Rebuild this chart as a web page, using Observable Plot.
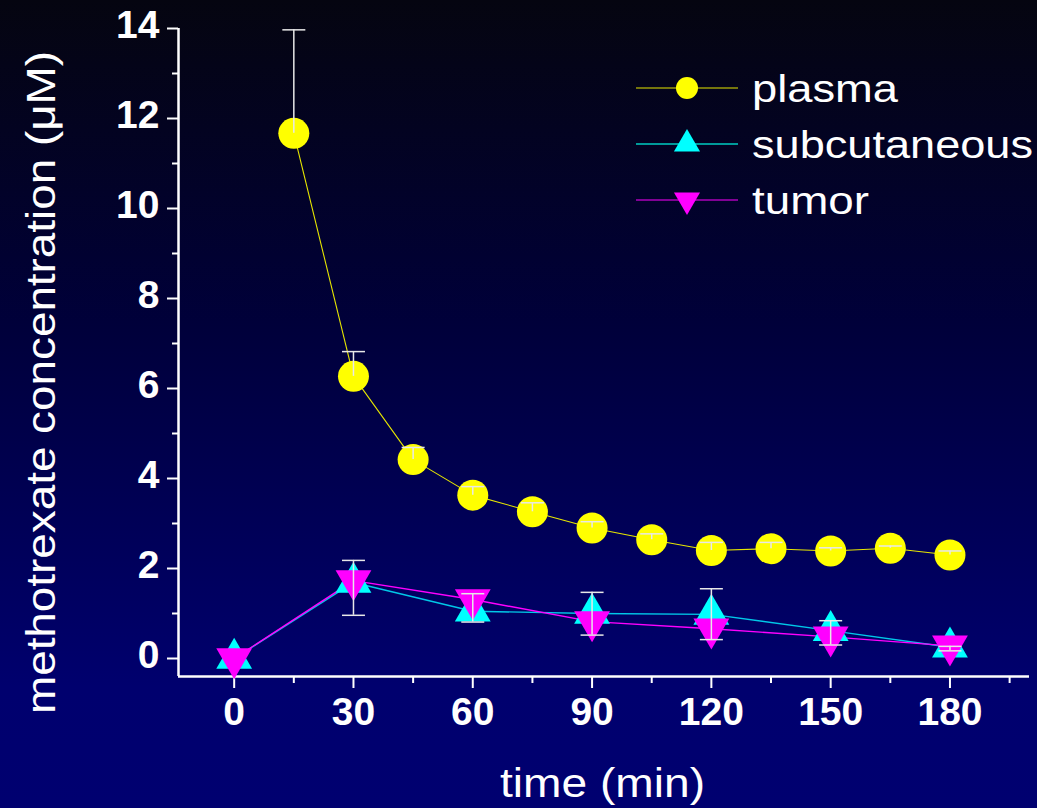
<!DOCTYPE html>
<html>
<head>
<meta charset="utf-8">
<script src="https://cdn.jsdelivr.net/npm/d3@7"></script>
<script src="https://cdn.jsdelivr.net/npm/@observablehq/plot@0.6"></script>
<style>
  html, body { margin: 0; padding: 0; background: #000060; }
  #chart { width: 1037px; height: 808px; overflow: hidden;
    background: linear-gradient(to bottom, #050510 0%, #00003a 40%, #00006e 85%, #000070 100%); }
  svg { display: block; font-family: "Liberation Sans", Arial, sans-serif; }
</style>
</head>
<body>
<div id="chart"></div>
<script>
// ---- data ----
const plasmaTime = [15, 30, 45, 60, 75, 90, 105, 120, 135, 150, 165, 180];
const plasmaConc = [11.67, 6.27, 4.42, 3.63, 3.26, 2.90, 2.64, 2.40, 2.44, 2.39, 2.45, 2.30];
const plasmaErr  = [2.30, 0.55, 0.27, 0.19, 0.20, 0.14, 0.13, 0.18, 0.14, 0.07, 0.05, 0.09];

const tissueTime     = [0, 30, 60, 90, 120, 150, 180];
const subcutConc     = [0.00, 1.69, 1.05, 1.00, 0.98, 0.62, 0.25];
const subcutErrUp    = [0.00, 0.49, 0.39, 0.47, 0.57, 0.22, 0.02];
const subcutErrDown  = [0.00, 0.73, 0.24, 0.48, 0.56, 0.32, 0.08];
const tumorConc      = [0.00, 1.73, 1.31, 0.82, 0.66, 0.48, 0.28];

const xMajorTicks = [0, 30, 60, 90, 120, 150, 180];
const xMinorTicks = [15, 45, 75, 105, 135, 165, 195];
const yMajorTicks = [0, 2, 4, 6, 8, 10, 12, 14];
const yMinorTicks = [1, 3, 5, 7, 9, 11, 13];

const seriesNames  = ["plasma", "subcutaneous", "tumor"];
const seriesColors = ["#ffff00", "#00ffff", "#ff00ff"];
const lineColors   = ["#e6e600", "#00c8e8", "#ff00ff"];
const xTitle = "time (min)";
const yTitle = "methotrexate concentration (\u03bcM)";

// ---- tables ----
const plasma = plasmaTime.map((t, i) => ({t, c: plasmaConc[i], e: plasmaErr[i]}));
const subcut = tissueTime.map((t, i) => ({t, c: subcutConc[i], up: subcutErrUp[i], down: subcutErrDown[i]}));
const tumor  = tissueTime.map((t, i) => ({t, c: tumorConc[i]}));
const subcutBars = subcut.filter(d => d.up > 0 || d.down > 0);

// custom symbols
const triDown = {
  draw(ctx, size) {
    const y = Math.sqrt(size / (Math.sqrt(3) * 3));
    ctx.moveTo(0, 2 * y);
    ctx.lineTo(-Math.sqrt(3) * y, -y);
    ctx.lineTo(Math.sqrt(3) * y, -y);
    ctx.closePath();
  }
};
const cap = {
  draw(ctx, size) { ctx.moveTo(-11.5, 0); ctx.lineTo(11.5, 0); }
};

const W = "#ffffff";
const errColor = "#e8e8e8";

const plot = Plot.plot({
  width: 1037,
  height: 808,
  marginLeft: 178,
  marginRight: 8,
  marginTop: 28,
  marginBottom: 132,
  x: {domain: [-14, 200], axis: null},
  y: {domain: [-0.4, 14], axis: null},
  style: {background: "transparent", color: W, fontFamily: "Liberation Sans, Arial, sans-serif"},
  marks: [
    // axes lines
    Plot.ruleX([-14], {stroke: W, strokeWidth: 2.5}),
    Plot.ruleY([-0.4], {stroke: W, strokeWidth: 2.5}),
    Plot.axisX(xMajorTicks, {anchor: "bottom", tickSize: 12, tickPadding: 9, stroke: W, strokeWidth: 2, fill: W,
      fontSize: 39, fontWeight: "bold", label: null, tickFormat: d => String(d)}),
    Plot.axisX(xMinorTicks, {anchor: "bottom", tickSize: 7, stroke: W, strokeWidth: 2, text: null, label: null}),
    Plot.axisY(yMajorTicks, {anchor: "left", tickSize: 11, stroke: W, strokeWidth: 2, text: null, label: null}),
    Plot.axisY(yMajorTicks, {anchor: "left", tickSize: 0, tickPadding: 19, fill: W,
      fontSize: 39, fontWeight: "bold", label: null, dy: -3, tickFormat: d => String(d)}),
    Plot.axisY(yMinorTicks, {anchor: "left", tickSize: 6, stroke: W, strokeWidth: 2, text: null, label: null}),

    // lines
    Plot.line(plasma, {x: "t", y: "c", stroke: lineColors[0], strokeWidth: 1.1}),
    Plot.line(subcut, {x: "t", y: "c", stroke: lineColors[1], strokeWidth: 1.4}),
    Plot.line(tumor,  {x: "t", y: "c", stroke: lineColors[2], strokeWidth: 1.4}),

    // markers
    Plot.dot(subcut, {x: "t", y: "c", symbol: "triangle", r: 13.3, fill: seriesColors[1], stroke: "none"}),
    Plot.dot(tumor,  {x: "t", y: "c", symbol: triDown, r: 13.3, fill: seriesColors[2], stroke: "none"}),
    Plot.dot(plasma, {x: "t", y: "c", r: 15.5, fill: seriesColors[0], stroke: "none"}),

    // error bars
    Plot.ruleX(plasma, {x: "t", y1: "c", y2: d => d.c + d.e, stroke: errColor, strokeWidth: 1.5}),
    Plot.dot(plasma, {x: "t", y: d => d.c + d.e, symbol: cap, r: 5, fill: "none", stroke: errColor, strokeWidth: 1.5}),
    Plot.ruleX(subcutBars, {x: "t", y1: d => d.c - d.down, y2: d => d.c + d.up, stroke: errColor, strokeWidth: 1.5}),
    Plot.dot(subcutBars, {x: "t", y: d => d.c + d.up, symbol: cap, r: 5, fill: "none", stroke: errColor, strokeWidth: 1.5}),
    Plot.dot(subcutBars, {x: "t", y: d => d.c - d.down, symbol: cap, r: 5, fill: "none", stroke: errColor, strokeWidth: 1.5})
  ]
});

document.getElementById("chart").appendChild(plot);

// ---- titles and legend, added into the same SVG ----
const svg = d3.select(plot);
const font = "Liberation Sans, Arial, sans-serif";

svg.append("text")
  .attr("x", 500).attr("y", 797).attr("text-anchor", "start")
  .attr("fill", W).attr("font-family", font).attr("font-size", 41)
  .attr("textLength", 205).attr("lengthAdjust", "spacingAndGlyphs")
  .text(xTitle);

svg.append("text")
  .attr("transform", "translate(55,714) rotate(-90)").attr("text-anchor", "start")
  .attr("x", 0).attr("y", 0)
  .attr("fill", W).attr("font-family", font).attr("font-size", 41)
  .attr("textLength", 663).attr("lengthAdjust", "spacingAndGlyphs")
  .text(yTitle);

const legendRowsY = [88, 144, 200];
const legendTextLen = [146, 281, 117];
const legendSymbols = [d3.symbolCircle, d3.symbolTriangle, triDown];
const legendSizes = [Math.PI * 11 * 11, Math.PI * 9.7 * 9.7, Math.PI * 9.7 * 9.7];
const legendLineColors = ["#e6e600", "#009a9a", "#ff00ff"];
const lg = svg.append("g");
seriesNames.forEach((name, i) => {
  const y = legendRowsY[i];
  lg.append("line").attr("x1", 636).attr("x2", 738).attr("y1", y).attr("y2", y)
    .attr("stroke", legendLineColors[i]).attr("stroke-width", i === 1 ? 2 : 1.2);
  lg.append("path").attr("transform", `translate(687,${y})`)
    .attr("d", d3.symbol(legendSymbols[i], legendSizes[i])())
    .attr("fill", seriesColors[i]);
  lg.append("text").attr("x", 752).attr("y", y + 14).attr("text-anchor", "start")
    .attr("fill", W).attr("font-family", font).attr("font-size", 38)
    .attr("textLength", legendTextLen[i]).attr("lengthAdjust", "spacingAndGlyphs")
    .text(name);
});
</script>
</body>
</html>
